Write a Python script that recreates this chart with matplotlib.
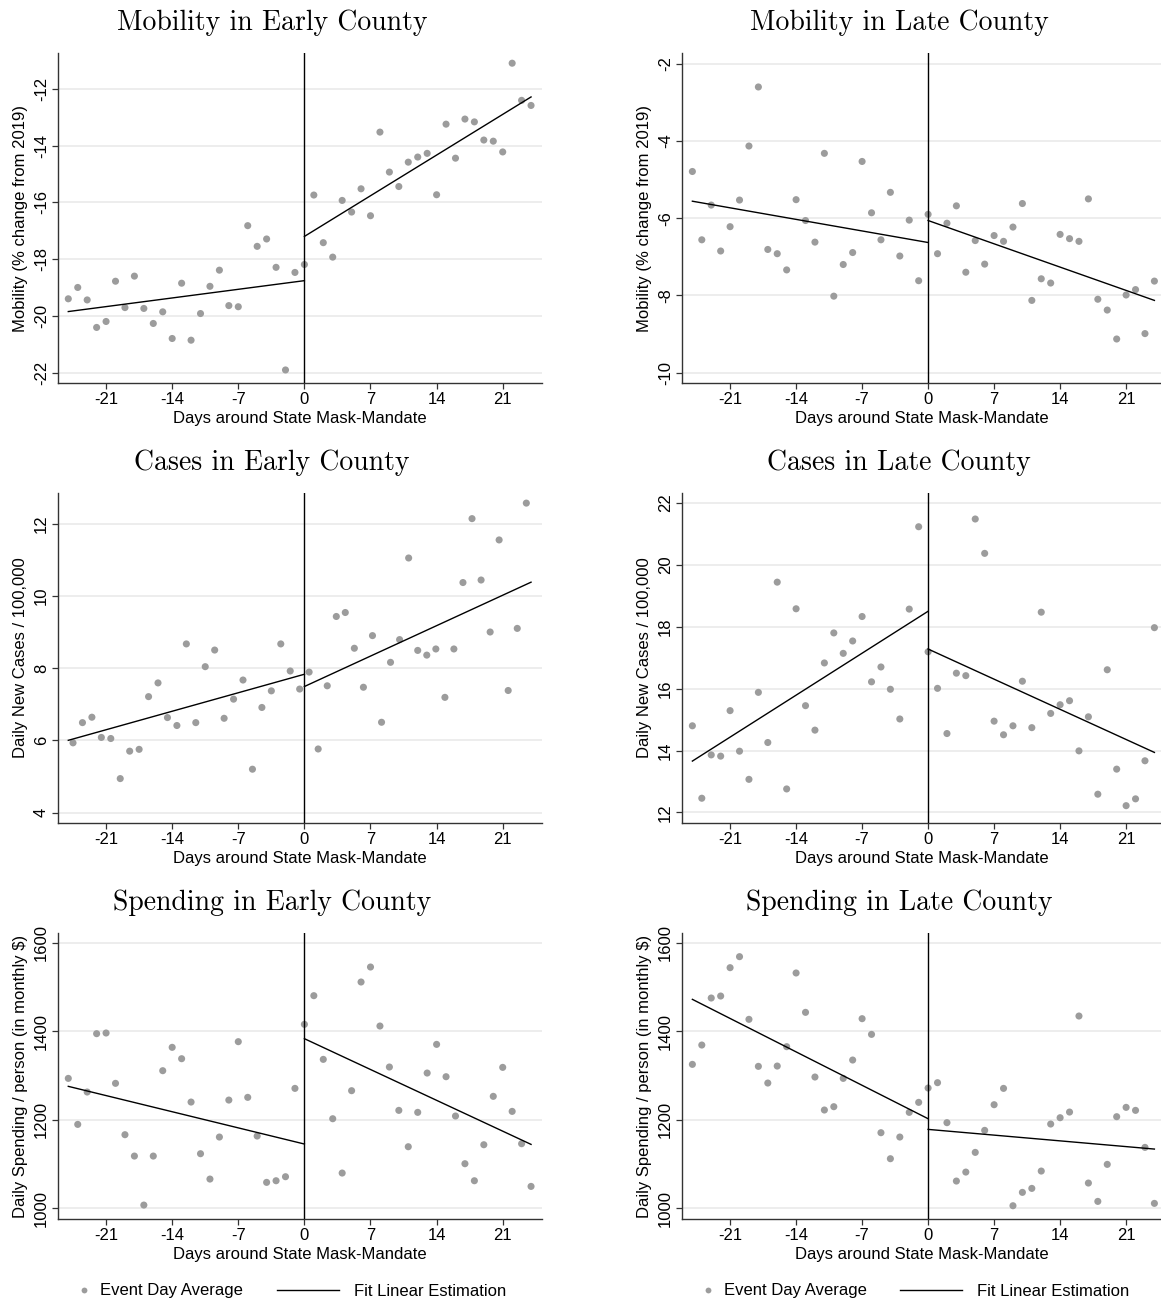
import numpy as np
import matplotlib
matplotlib.use("Agg")
import matplotlib.pyplot as plt
from matplotlib.lines import Line2D

plt.rcParams['font.family'] = ['Liberation Sans', 'DejaVu Sans']
plt.rcParams['axes.unicode_minus'] = False

# ---- data ----
days = np.arange(-25, 25)
fit_pre_x = [-25, 0]
fit_post_x = [0, 24]

mob_early = [-19.40, -19.00, -19.44, -20.41, -20.20, -18.78, -19.71, -18.60, -19.74, -20.27,
             -19.86, -20.80, -18.85, -20.86, -19.92, -18.96, -18.39, -19.64, -19.68, -16.82,
             -17.55, -17.29, -18.29, -21.91, -18.47, -18.19, -15.74, -17.42, -17.93, -15.93,
             -16.34, -15.52, -16.47, -13.52, -14.93, -15.44, -14.58, -14.40, -14.27, -15.73,
             -13.24, -14.44, -13.06, -13.16, -13.80, -13.84, -14.22, -11.09, -12.40, -12.58]
mob_early_fit_pre = [-19.85, -18.76]
mob_early_fit_post = [-17.20, -12.28]

mob_late = [-4.79, -6.56, -5.66, -6.85, -6.22, -5.53, -4.13, -2.60, -6.81, -6.92,
            -7.34, -5.52, -6.06, -6.62, -4.32, -8.02, -7.20, -6.89, -4.53, -5.86,
            -6.56, -5.33, -6.98, -6.05, -7.62, -5.90, -6.92, -6.13, -5.68, -7.40,
            -6.58, -7.19, -6.45, -6.60, -6.23, -5.62, -8.13, -7.57, -7.68, -6.42,
            -6.53, -6.60, -5.50, -8.10, -8.38, -9.13, -7.99, -7.85, -8.99, -7.63]
mob_late_fit_pre = [-5.56, -6.63]
mob_late_fit_post = [-6.06, -8.13]

# early-county case points sit between whole days
cases_early_days = [-24.5, -23.5, -22.5, -21.5, -20.5, -19.5, -18.5, -17.5, -16.5, -15.5,
                    -14.5, -13.5, -12.5, -11.5, -10.5, -9.5, -8.5, -7.5, -6.5, -5.5,
                    -4.5, -3.5, -2.5, -1.5, -0.5,
                    0.5, 1.46, 2.42, 3.38, 4.33, 5.29, 6.25, 7.21, 8.17, 9.12,
                    10.08, 11.04, 12.0, 12.96, 13.92, 14.88, 15.83, 16.79, 17.75, 18.71,
                    19.67, 20.62, 21.58, 22.54, 23.5]
cases_early = [5.93, 6.49, 6.64, 6.08, 6.05, 4.94, 5.70, 5.75, 7.21, 7.59,
               6.63, 6.41, 8.67, 6.49, 8.04, 8.50, 6.61, 7.14, 7.67, 5.20,
               6.91, 7.37, 8.67, 7.92, 7.42,
               7.89, 5.76, 7.51, 9.43, 9.54, 8.55, 7.47, 8.90, 6.50, 8.16,
               8.79, 11.05, 8.49, 8.36, 8.53, 7.19, 8.53, 10.37, 12.14, 10.44,
               9.00, 11.55, 7.38, 9.10, 12.57]
cases_early_fit_pre = [6.00, 7.83]
cases_early_fit_post = [7.49, 10.38]

cases_late = [14.80, 12.46, 13.86, 13.82, 15.29, 13.98, 13.07, 15.88, 14.26, 19.44,
              12.76, 18.58, 15.45, 14.66, 16.83, 17.80, 17.14, 17.54, 18.33, 16.22,
              16.70, 15.98, 15.02, 18.57, 21.23, 17.19, 16.01, 14.55, 16.50, 16.42,
              21.48, 20.37, 14.95, 14.51, 14.80, 16.24, 14.74, 18.47, 15.20, 15.48,
              15.61, 13.99, 15.09, 12.59, 16.61, 13.40, 12.22, 12.44, 13.67, 17.97]
cases_late_fit_pre = [13.66, 18.50]
cases_late_fit_post = [17.28, 13.94]

spend_early = [1293.9, 1189.9, 1263.1, 1395.0, 1396.5, 1282.7, 1166.6, 1118.3, 1007.5, 1118.3,
               1311.3, 1364.1, 1338.4, 1240.4, 1123.6, 1066.3, 1161.3, 1244.9, 1376.9, 1251.0,
               1163.6, 1058.8, 1062.5, 1071.6, 1271.3, 1416.1, 1480.9, 1336.9, 1202.7, 1079.9,
               1266.1, 1511.8, 1545.7, 1412.3, 1319.6, 1221.6, 1139.4, 1217.1, 1306.0, 1370.8,
               1297.7, 1208.8, 1101.0, 1062.5, 1143.9, 1253.3, 1318.8, 1219.3, 1146.2, 1049.7]
spend_early_fit_pre = [1275.9, 1145.5]
spend_early_fit_post = [1383.7, 1144.7]

spend_late = [1325.6, 1369.3, 1475.6, 1480.1, 1544.2, 1569.1, 1427.4, 1321.1, 1283.4, 1321.8,
              1365.6, 1532.2, 1443.2, 1297.0, 1222.4, 1229.9, 1293.9, 1335.4, 1428.9, 1393.4,
              1171.1, 1112.3, 1161.3, 1217.1, 1239.7, 1272.1, 1284.2, 1193.8, 1061.8, 1082.1,
              1126.6, 1176.4, 1234.4, 1271.3, 1006.0, 1036.2, 1045.2, 1084.4, 1190.7, 1205.0,
              1217.8, 1434.9, 1057.3, 1015.8, 1099.5, 1207.3, 1228.4, 1221.6, 1137.9, 1011.3]
spend_late_fit_pre = [1472.6, 1202.7]
spend_late_fit_post = [1178.6, 1134.1]

x_ticks = [-21, -14, -7, 0, 7, 14, 21]
xlabel = "Days around State Mask-Mandate"
ylab_mob = "Mobility (% change from 2019)"
ylab_cases = "Daily New Cases / 100,000"
ylab_spend = "Daily Spending / person (in monthly $)"

panels = [
    ("Mobility in Early County", days, mob_early, mob_early_fit_pre, mob_early_fit_post,
     ylab_mob, [-22, -20, -18, -16, -14, -12], (-22.37, -10.73)),
    ("Mobility in Late County", days, mob_late, mob_late_fit_pre, mob_late_fit_post,
     ylab_mob, [-10, -8, -6, -4, -2], (-10.27, -1.72)),
    ("Cases in Early County", cases_early_days, cases_early, cases_early_fit_pre, cases_early_fit_post,
     ylab_cases, [4, 6, 8, 10, 12], (3.71, 12.85)),
    ("Cases in Late County", days, cases_late, cases_late_fit_pre, cases_late_fit_post,
     ylab_cases, [12, 14, 16, 18, 20, 22], (11.66, 22.32)),
    ("Spending in Early County", days, spend_early, spend_early_fit_pre, spend_early_fit_post,
     ylab_spend, [1000, 1200, 1400, 1600], (976, 1622.6)),
    ("Spending in Late County", days, spend_late, spend_late_fit_pre, spend_late_fit_post,
     ylab_spend, [1000, 1200, 1400, 1600], (976, 1622.6)),
]

# ---- layout (pixels of the 1161x1303 canvas) ----
W, H = 1161, 1303
col_px = [(58, 542), (682, 1161)]
col_xlim = [(-26.09, 25.16), (-26.1, 24.70)]
col_title_x = [272, 899]
row_px = [(53, 383), (493, 823), (933, 1219)]

dot_color = '#9c9c9c'
grid_color = '#e8e8e8'
spine_color = '#333333'

fig = plt.figure(figsize=(W / 100, H / 100), dpi=100)
fig.patch.set_facecolor('white')

for i, (title, x, y, fpre, fpost, ylab, yticks, ylim) in enumerate(panels):
    r, c = divmod(i, 2)
    x0, x1 = col_px[c]
    y0, y1 = row_px[r]
    ax = fig.add_axes([x0 / W, 1 - y1 / H, (x1 - x0) / W, (y1 - y0) / H])

    ax.scatter(x, y, s=26, color=dot_color, edgecolors='none', zorder=3)
    ax.plot(fit_pre_x, fpre, color='black', lw=1.0, zorder=4)
    ax.plot(fit_post_x, fpost, color='black', lw=1.0, zorder=4)
    ax.axvline(0, color='black', lw=1.0, zorder=4)

    ax.set_xlim(*col_xlim[c])
    ax.set_ylim(*ylim)
    ax.set_xticks(x_ticks)
    ax.set_xticklabels([str(t) for t in x_ticks])
    ax.set_yticks(yticks)
    ax.set_yticklabels([str(t) for t in yticks])
    ax.grid(axis='y', color=grid_color, lw=1.1)
    ax.set_axisbelow(True)

    for side in ['top', 'right']:
        ax.spines[side].set_visible(False)
    for side in ['left', 'bottom']:
        ax.spines[side].set_color(spine_color)
        ax.spines[side].set_linewidth(1.0)

    ax.tick_params(axis='both', direction='out', length=4.5, width=0.9,
                   color=spine_color, labelsize=12, pad=2)
    ax.tick_params(axis='y', labelrotation=90)
    plt.setp(ax.get_yticklabels(), va='center')

    ax.set_xlabel(xlabel, fontsize=12, labelpad=3)
    ax.set_ylabel(ylab, fontsize=12, labelpad=4)

    h_px = y1 - y0
    w_px = x1 - x0
    ax.text((col_title_x[c] - x0) / w_px, 1 + 30.5 / h_px, title,
            transform=ax.transAxes, ha='center', va='center',
            family='cmr10', fontsize=20)

# legends below each column
dot_handle = Line2D([], [], marker='o', linestyle='none', markersize=4.2,
                    markerfacecolor=dot_color, markeredgecolor='none')
line_handle = Line2D([], [], color='black', lw=1.0)
legend_y = 1 - 1291 / H
for dot_left, line_left in [(77, 277), (701, 900)]:
    fig.legend([dot_handle], ["Event Day Average"], loc='center left',
               bbox_to_anchor=(dot_left / W, legend_y), frameon=False,
               fontsize=12, handlelength=0.8, handletextpad=0.55,
               borderpad=0, borderaxespad=0)
    fig.legend([line_handle], ["Fit Linear Estimation"], loc='center left',
               bbox_to_anchor=(line_left / W, legend_y), frameon=False,
               fontsize=12, handlelength=3.7, handletextpad=0.9,
               borderpad=0, borderaxespad=0)

fig.savefig("out.png", dpi=100, facecolor='white')
